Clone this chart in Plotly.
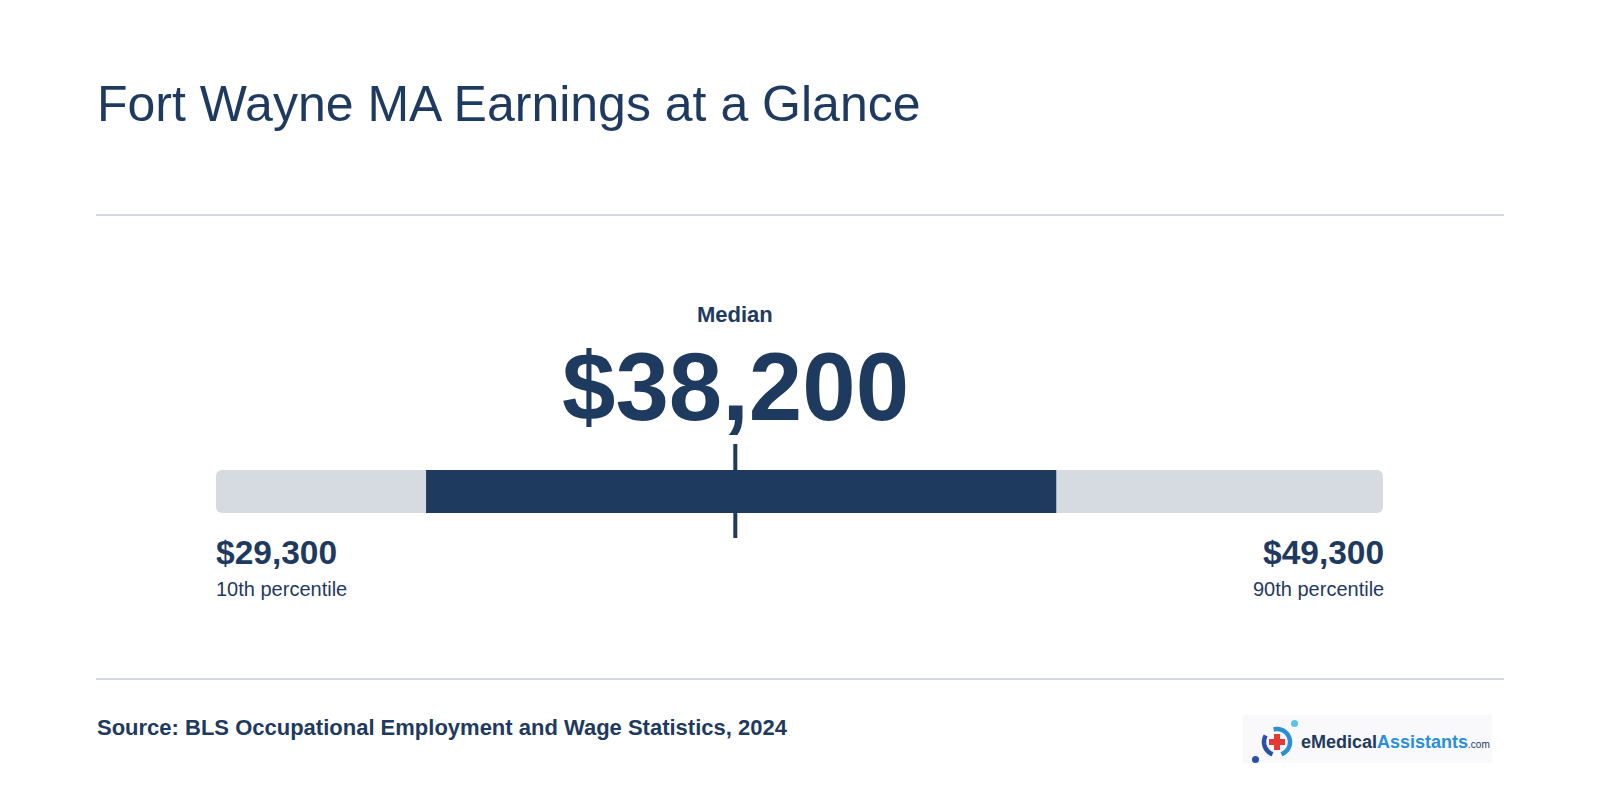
import math
import plotly.graph_objects as go

# ---- data ----
percentiles = [10, 25, 50, 75, 90]
wages = [29300, 32900, 38200, 43700, 49300]
end_labels = ["10th percentile", "90th percentile"]
title_text = "Fort Wayne MA Earnings at a Glance"
source_text = "Source: BLS Occupational Employment and Wage Statistics, 2024"
median_label = "Median"

p10, p25, med, p75, p90 = wages

NAVY = "#1f3a5f"
GRAY = "#d6dae1"
RULE = "#d6dae0"
FONT = "Liberation Sans, Arial, Helvetica, sans-serif"

W, H = 1600, 800
PL, PR, PT, PB = 216, 1383, 470, 513


def xp(px):
    return (px - PL) / (PR - PL)


def yp(py):
    return (PB - py) / (PB - PT)


def arc_path(cx, cy, r, a0, a1, n=30):
    pts = []
    for i in range(n + 1):
        a = math.radians(a0 + (a1 - a0) * i / n)
        pts.append((xp(cx + r * math.cos(a)), yp(cy - r * math.sin(a))))
    return "M " + " L ".join(f"{x:.5f},{y:.5f}" for x, y in pts)


fig = go.Figure()
fig.add_trace(go.Bar(
    y=["range"], x=[p90 - p10], base=[p10], orientation="h", width=1,
    marker=dict(color=GRAY, cornerradius=6, line=dict(width=0)),
    hoverinfo="skip", showlegend=False))
fig.add_trace(go.Bar(
    y=["range"], x=[p75 - p25], base=[p25], orientation="h", width=1,
    marker=dict(color=NAVY, line=dict(width=0)),
    hoverinfo="skip", showlegend=False))

CX, CY = 1277, 742
shapes = [
    dict(type="line", xref="paper", yref="paper", x0=xp(96), x1=xp(1504),
         y0=yp(215), y1=yp(215), line=dict(color=RULE, width=2)),
    dict(type="line", xref="paper", yref="paper", x0=xp(96), x1=xp(1504),
         y0=yp(679), y1=yp(679), line=dict(color=RULE, width=2)),
    dict(type="line", xref="x", yref="paper", x0=med, x1=med,
         y0=yp(538), y1=yp(444), line=dict(color=NAVY, width=4)),
    # logo background
    dict(type="rect", xref="paper", yref="paper", x0=xp(1243), x1=xp(1492),
         y0=yp(763), y1=yp(715), fillcolor="#f9f9fb", line=dict(width=0), layer="below"),
    # logo icon
    dict(type="path", xref="paper", yref="paper", path=arc_path(CX, CY, 13, -70, 105),
         line=dict(color="#2b8fd8", width=4.5)),
    dict(type="path", xref="paper", yref="paper", path=arc_path(CX, CY, 13, 150, 250),
         line=dict(color="#2a4fa8", width=4.5)),
    dict(type="circle", xref="paper", yref="paper", x0=xp(1252), x1=xp(1259),
         y0=yp(763), y1=yp(756), fillcolor="#2a4fa8", line=dict(width=0)),
    dict(type="circle", xref="paper", yref="paper", x0=xp(1291), x1=xp(1298),
         y0=yp(727), y1=yp(720), fillcolor="#5bc2f0", line=dict(width=0)),
    dict(type="rect", xref="paper", yref="paper", x0=xp(CX - 3), x1=xp(CX + 3),
         y0=yp(CY + 8), y1=yp(CY - 8), fillcolor="#e53935", line=dict(width=0)),
    dict(type="rect", xref="paper", yref="paper", x0=xp(CX - 8), x1=xp(CX + 8),
         y0=yp(CY + 3), y1=yp(CY - 3), fillcolor="#e53935", line=dict(width=0)),
]


def ann(text, x, y, size, bold=False, xanchor="left", xref="paper", color=NAVY, xshift=0):
    return dict(text=f"<b>{text}</b>" if bold else text, x=x, y=y, xref=xref, yref="paper",
                xanchor=xanchor, yanchor="middle", showarrow=False, xshift=xshift,
                font=dict(family=FONT, size=size, color=color))


annotations = [
    ann(title_text, xp(95), yp(104), 50),
    ann(median_label, med, yp(314.5), 22, bold=True, xanchor="center", xref="x"),
    ann(f"${med:,.0f}", med, yp(386), 96, bold=True, xanchor="center", xref="x"),
    ann(f"${p10:,.0f}", p10, yp(552.5), 33.5, bold=True, xanchor="left", xref="x", xshift=-2),
    ann(end_labels[0], p10, yp(589), 20, xanchor="left", xref="x", xshift=-2),
    ann(f"${p90:,.0f}", p90, yp(552.5), 33.5, bold=True, xanchor="right", xref="x", xshift=3),
    ann(end_labels[1], p90, yp(589), 20, xanchor="right", xref="x", xshift=3),
    ann(source_text, xp(95), yp(727.5), 22, bold=True),
    dict(text="<b><span style='color:#1f3a5f'>eMedical</span><span style='color:#2b8fd8'>Assistants</span></b>"
              "<span style='font-size:10px;color:#1f3a5f'>.com</span>",
         x=xp(1299), y=yp(742), xref="paper", yref="paper", xanchor="left", yanchor="middle",
         showarrow=False, font=dict(family=FONT, size=18)),
]

fig.update_layout(
    width=W, height=H,
    margin=dict(l=PL, r=W - PR, t=PT, b=H - PB, pad=0),
    paper_bgcolor="white", plot_bgcolor="rgba(0,0,0,0)",
    barmode="overlay",
    xaxis=dict(range=[p10, p90], visible=False, fixedrange=True),
    yaxis=dict(range=[-0.5, 0.5], visible=False, fixedrange=True),
    shapes=shapes, annotations=annotations,
    showlegend=False,
)

fig.write_html("out.html", config={"displayModeBar": False},
               post_script="document.body.style.margin='0';document.body.style.overflow='hidden';")
